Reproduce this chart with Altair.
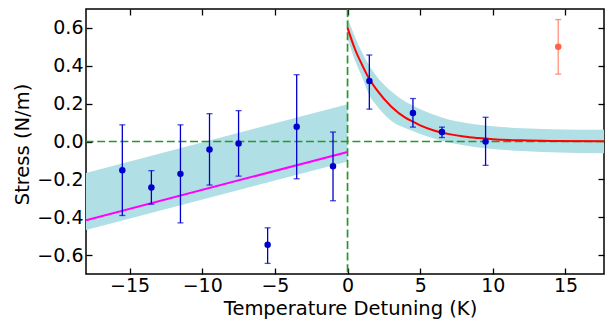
import altair as alt
import pandas as pd

# ---- data ----
pt_x = [-15.5, -13.5, -11.5, -9.5, -7.5, -5.5, -3.5, -1.0, 1.5, 4.5, 6.5, 9.5]
pt_y = [-0.152, -0.243, -0.171, -0.042, -0.010, -0.546, 0.078, -0.131, 0.32, 0.151, 0.05, 0.0]
pt_lo = [-0.391, -0.331, -0.430, -0.230, -0.183, -0.644, -0.197, -0.313, 0.171, 0.076, 0.021, -0.126]
pt_hi = [0.088, -0.154, 0.088, 0.147, 0.163, -0.456, 0.353, 0.050, 0.457, 0.227, 0.076, 0.128]

out_x = [14.5]
out_y = [0.50]
out_lo = [0.356]
out_hi = [0.644]

lin_x = [-18.0, 0.0]
lin_y = [-0.416, -0.055]
lband_lo = [-0.468, -0.105]
lband_hi = [-0.166, 0.197]

cur_x = [0, 0.5, 1, 1.5, 2, 3, 4, 4.5, 5, 6, 7, 8, 9, 10, 12, 14, 17.65]
cur_y = [0.60, 0.49, 0.405, 0.33, 0.274, 0.185, 0.125, 0.105, 0.085, 0.057, 0.039, 0.026, 0.018, 0.012, 0.006, 0.003, 0.001]
rband_lo = [0.545, 0.43, 0.34, 0.245, 0.19, 0.11, 0.07, 0.055, 0.04, 0.015, -0.005, -0.02, -0.032, -0.04, -0.05, -0.057, -0.062]
rband_hi = [0.655, 0.555, 0.47, 0.40, 0.345, 0.265, 0.21, 0.19, 0.17, 0.14, 0.115, 0.10, 0.088, 0.08, 0.07, 0.065, 0.062]

x_ticks = [-15, -10, -5, 0, 5, 10, 15]
y_ticks = [-0.6, -0.4, -0.2, 0.0, 0.2, 0.4, 0.6]

# ---- tables ----
pts = pd.DataFrame({"x": pt_x, "y": pt_y, "lo": pt_lo, "hi": pt_hi})
outp = pd.DataFrame({"x": out_x, "y": out_y, "lo": out_lo, "hi": out_hi})
lin = pd.DataFrame({"x": lin_x, "y": lin_y, "lo": lband_lo, "hi": lband_hi})
cur = pd.DataFrame({"x": cur_x, "y": cur_y, "lo": rband_lo, "hi": rband_hi})
zero = pd.DataFrame({"v": [0.0]})

xs = alt.Scale(domain=[-18, 17.65], nice=False, zero=False)
ys = alt.Scale(domain=[-0.7, 0.7], nice=False, zero=False)

BLUE = "#0000cd"
BAND = "#b0dfe5"
GREEN = "#2a962a"
DASH = [8, 3.6]
LFS = 19
TFS = 19.5


def X(field="x", axis=None):
    return alt.X(f"{field}:Q", scale=xs, axis=axis)


def Y(field="y", axis=None):
    return alt.Y(f"{field}:Q", scale=ys, axis=axis)


x_axis_bottom = alt.Axis(
    orient="bottom", values=x_ticks, offset=-6, tickSize=6, domain=False, grid=False,
    labelPadding=2, labelExpr="replace(format(datum.value, 'd'), '-', '\u2212')",
    title="Temperature Detuning (K)", titleX=264, titleY=46, titleAlign="center",
    titleBaseline="alphabetic",
)
y_axis_left = alt.Axis(
    orient="left", values=y_ticks, offset=-6, tickSize=6, domain=False, grid=False,
    labelPadding=3, labelExpr="replace(format(datum.value, '.1f'), '-', '\u2212')",
    title="Stress (N/m)", titleX=-70, titleY=135, titleAngle=270, titleAlign="center",
    titleBaseline="middle",
)
x_axis_top = alt.Axis(
    orient="top", values=x_ticks, offset=-6, tickSize=6, domain=False, grid=False,
    labels=False, title=None,
)
y_axis_right = alt.Axis(
    orient="right", values=y_ticks, offset=-6, tickSize=6, domain=False, grid=False,
    labels=False, title=None,
)

band_left = alt.Chart(lin).mark_area(color=BAND, opacity=1, clip=True).encode(
    x=X(), y=Y("lo"), y2="hi"
)
band_right = alt.Chart(cur).mark_area(color=BAND, opacity=1, clip=True, interpolate="monotone").encode(
    x=X(), y=Y("lo"), y2="hi"
)
hline = alt.Chart(zero).mark_rule(color=GREEN, strokeDash=DASH, strokeWidth=1.7).encode(y=Y("v"))
vline = alt.Chart(zero).mark_rule(color=GREEN, strokeDash=DASH, strokeWidth=1.7).encode(x=X("v"))
mag = alt.Chart(lin).mark_line(color="#ff00ff", strokeWidth=2, clip=True).encode(
    x=X(axis=x_axis_top), y=Y(axis=y_axis_right)
)
red = alt.Chart(cur).mark_line(color="#ff0000", strokeWidth=2, clip=True, interpolate="monotone").encode(
    x=X(), y=Y()
)
ebar = alt.Chart(pts).mark_rule(color=BLUE, strokeWidth=1.3).encode(x=X(), y=Y("lo"), y2="hi")
cap_lo = alt.Chart(pts).mark_tick(color=BLUE, orient="horizontal", size=6, thickness=1.3).encode(x=X(), y=Y("lo"))
cap_hi = alt.Chart(pts).mark_tick(color=BLUE, orient="horizontal", size=6, thickness=1.3).encode(x=X(), y=Y("hi"))
dots = alt.Chart(pts).mark_circle(color=BLUE, size=42, opacity=1).encode(
    x=X(axis=x_axis_bottom), y=Y(axis=y_axis_left)
)
o_bar = alt.Chart(outp).mark_rule(color="#ff6347", strokeWidth=1.3, opacity=0.7).encode(x=X(), y=Y("lo"), y2="hi")
o_cl = alt.Chart(outp).mark_tick(color="#ff6347", orient="horizontal", size=6, thickness=1.3, opacity=0.7).encode(x=X(), y=Y("lo"))
o_ch = alt.Chart(outp).mark_tick(color="#ff6347", orient="horizontal", size=6, thickness=1.3, opacity=0.7).encode(x=X(), y=Y("hi"))
o_dot = alt.Chart(outp).mark_circle(color="#ff6347", size=42, opacity=1).encode(x=X(), y=Y())

chart = (
    alt.layer(band_left, band_right, hline, vline, mag, red, ebar, cap_lo, cap_hi, dots,
              o_bar, o_cl, o_ch, o_dot)
    .resolve_axis(x="independent", y="independent")
    .properties(
        width=518, height=265,
        autosize=alt.AutoSizeParams(type="none"),
        padding={"left": 78, "top": 1, "right": 1, "bottom": 45},
        background="white",
    )
    .configure_view(stroke="black", strokeWidth=1.5)
    .configure_axis(
        labelFont="DejaVu Sans", labelFontSize=LFS, labelColor="black",
        titleFont="DejaVu Sans", titleFontSize=TFS, titleFontWeight="normal", titleColor="black",
        tickColor="black", tickWidth=1.3,
    )
)

chart.save("out.html", embed_options={"renderer": "svg", "actions": False})
